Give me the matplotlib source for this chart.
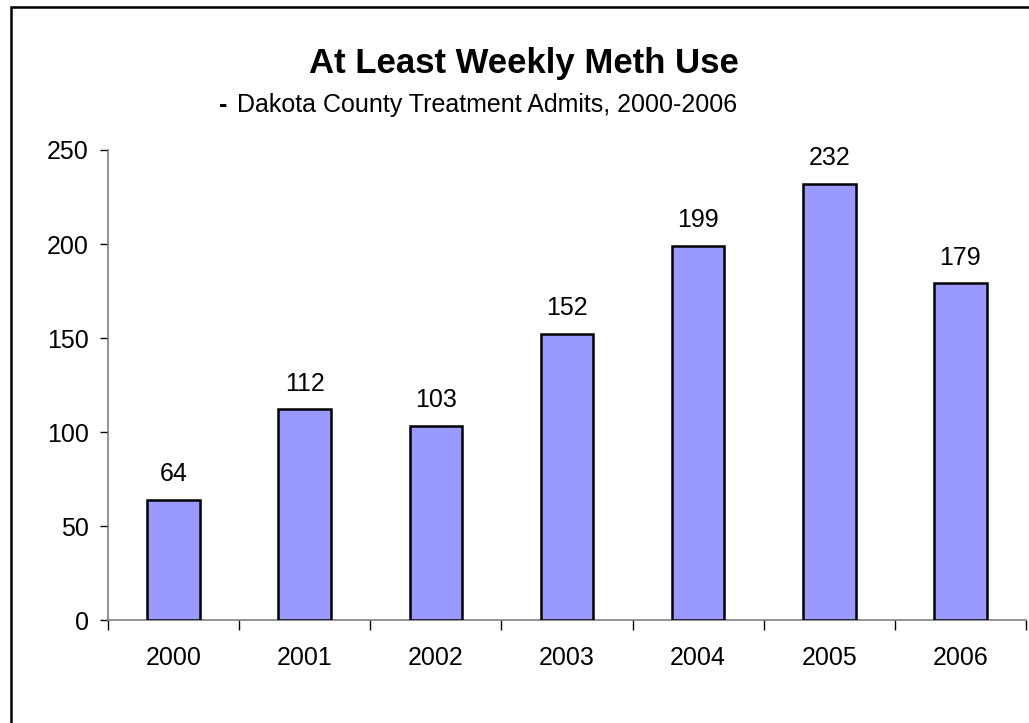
import matplotlib
matplotlib.use('Agg')
import matplotlib.pyplot as plt
from matplotlib.patches import Rectangle

# data
years = ['2000', '2001', '2002', '2003', '2004', '2005', '2006']
admits = [64, 112, 103, 152, 199, 232, 179]
y_ticks = [0, 50, 100, 150, 200, 250]

BAR_COLOR = '#9999FF'
SPINE_GREY = '#808080'

plt.rcParams['font.family'] = ['Liberation Sans', 'DejaVu Sans']

W, H = 1029, 723
fig = plt.figure(figsize=(W / 100, H / 100), dpi=100)
ax = fig.add_axes([108 / W, 1 - 620 / H, (1026 - 108) / W, (620 - 150) / H])

x = range(len(years))
bars = ax.bar(x, admits, width=0.4, color=BAR_COLOR, edgecolor='black', linewidth=1.8, zorder=3)

for bar, val in zip(bars, admits):
    ax.annotate(str(val), (bar.get_x() + bar.get_width() / 2, val),
                xytext=(0, 10), textcoords='offset points',
                ha='center', va='bottom', fontsize=18)

ax.set_xlim(-0.5, len(years) - 0.5)
ax.set_ylim(0, 250)
ax.set_yticks(y_ticks)
ax.set_yticklabels([str(t) for t in y_ticks], fontsize=18)

# category labels centered, tick marks on the band edges
ax.set_xticks(list(x))
ax.set_xticklabels(years, fontsize=18)
ax.set_xticks([i - 0.5 for i in range(len(years) + 1)], minor=True)
ax.tick_params(axis='x', which='major', length=0, pad=19)
ax.tick_params(axis='x', which='minor', length=7, direction='out', color='black', width=1)
ax.tick_params(axis='y', length=6, direction='out', color='black', width=1, pad=8)

for side in ['top', 'right']:
    ax.spines[side].set_visible(False)
for side in ['left', 'bottom']:
    ax.spines[side].set_color(SPINE_GREY)
    ax.spines[side].set_linewidth(1.2)

# titles
fig.text(524 / W, 1 - 73 / H, 'At Least Weekly Meth Use', ha='center', va='baseline',
         fontsize=25, fontweight='bold')
fig.text(219 / W, 1 - 112 / H, '-', ha='left', va='baseline', fontsize=18, fontweight='bold')
fig.text(237 / W, 1 - 112 / H, 'Dakota County Treatment Admits, 2000-2006', ha='left',
         va='baseline', fontsize=18)

# outer chart frame (only left and top edges fall inside the picture)
frame = Rectangle((10.5 / W, -1), 2, 1 + (1 - 6.5 / H), transform=fig.transFigure,
                  fill=False, edgecolor='black', linewidth=1.8)
fig.patches.append(frame)

fig.savefig('out.png', dpi=100)
